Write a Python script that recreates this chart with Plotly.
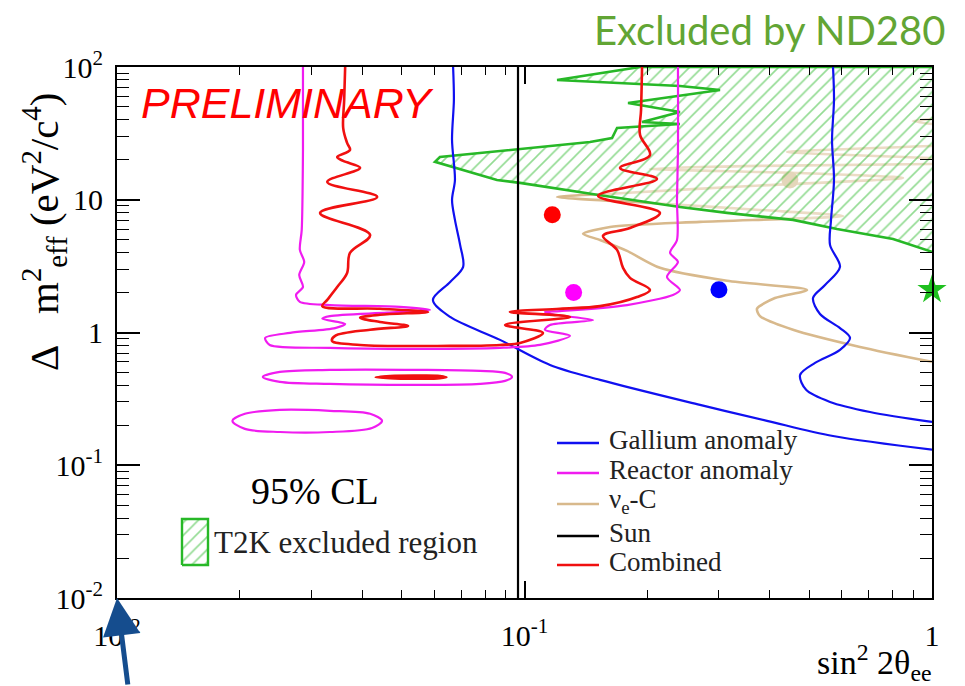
import numpy as np
import plotly.graph_objects as go

# ---------------------------------------------------------------
# 95% CL contours in the (sin^2 2theta_ee, Delta m^2_eff) plane
# x values: sin^2 2theta_ee, y values: Delta m^2_eff in eV^2/c^4
# ---------------------------------------------------------------

# Gallium anomaly (two branches)
gallium_a_s2t = [0.0668, 0.0671, 0.0664, 0.0675, 0.0664, 0.0675, 0.0695, 0.0707, 0.0657,
                 0.0596, 0.0657, 0.0871, 0.1155, 0.1532, 0.2696, 0.3937, 0.5716, 1.0]
gallium_a_dm2 = [100, 56.4, 28.2, 14.1, 9.97, 7.05, 4.57, 3.12, 2.40,
                 1.76, 1.31, 0.880, 0.570, 0.440, 0.285, 0.216, 0.166, 0.131]

gallium_b_s2t = [0.5716, 0.5748, 0.5684, 0.5748, 0.5652, 0.562, 0.5946, 0.5464, 0.5105, 0.531,
                 0.5946, 0.6293, 0.5946, 0.5164, 0.4745, 0.491, 0.562, 0.7045, 1.0]
gallium_b_dm2 = [100, 56.4, 28.2, 14.1, 7.05, 4.57, 3.12, 2.28, 1.82, 1.38,
                 1.08, 0.911, 0.740, 0.590, 0.479, 0.370, 0.300, 0.252, 0.212]

# Reactor anomaly: main contour and two islands
reactor_s2t = [0.0286, 0.0286, 0.0284, 0.0281, 0.0288, 0.0280, 0.0286, 0.0275, 0.0281, 0.0333,
               0.0495, 0.0586, 0.0460, 0.0333, 0.0319, 0.0363, 0.0343, 0.0266, 0.0231, 0.0237,
               0.0333, 0.0554, 0.0871, 0.1091, 0.1293, 0.1122, 0.1155, 0.1473, 0.1188, 0.1122,
               0.1222, 0.1785, 0.2314, 0.2407, 0.2237, 0.238, 0.2276, 0.2367, 0.2367, 0.238, 0.238]
reactor_dm2 = [100, 23.7, 5.93, 4.19, 3.40, 2.71, 2.20, 1.92, 1.70, 1.61,
               1.56, 1.48, 1.41, 1.33, 1.27, 1.16, 1.08, 0.993, 0.911, 0.806,
               0.766, 0.753, 0.766, 0.806, 0.943, 1.05, 1.14, 1.24, 1.36, 1.43,
               1.45, 1.61, 1.92, 2.09, 2.62, 3.40, 3.98, 4.98, 9.97, 23.7, 100]

reactor_isl1_s2t = [0.0228, 0.0251, 0.0333, 0.0554, 0.0778, 0.0896, 0.0932, 0.0896, 0.0778,
                    0.0554, 0.0333, 0.0251, 0.0228]
reactor_isl1_dm2 = [0.463, 0.505, 0.523, 0.523, 0.514, 0.496, 0.463, 0.432, 0.410,
                    0.403, 0.410, 0.425, 0.463]

reactor_isl2_s2t = [0.0192, 0.0206, 0.0251, 0.0333, 0.0418, 0.0447, 0.04225, 0.0333, 0.0251,
                    0.0206, 0.0192]
reactor_isl2_dm2 = [0.216, 0.244, 0.261, 0.257, 0.244, 0.216, 0.191, 0.178, 0.178,
                    0.188, 0.216]

# Combined fit: main contour and small island
combined_s2t = [0.0363, 0.0361, 0.0359, 0.0367, 0.0373, 0.0347, 0.0359, 0.0395, 0.0328, 0.0435,
                0.0315, 0.0418, 0.0373, 0.0367, 0.0347, 0.0328, 0.0319, 0.0442, 0.0580, 0.0442,
                0.0395, 0.0442, 0.0518, 0.0418, 0.0343, 0.0337, 0.0395, 0.0657, 0.0871, 0.0975,
                0.111, 0.0896, 0.1293, 0.0921, 0.1222, 0.1532, 0.1888, 0.2032, 0.1815, 0.1745,
                0.1687, 0.1558, 0.1815, 0.215, 0.1515, 0.2114, 0.1716, 0.2032, 0.1921, 0.1932, 0.1943]
combined_dm2 = [100, 56.4, 34.7, 26.8, 23.7, 21.0, 19.6, 17.4, 13.6, 10.5,
                7.96, 5.43, 3.98, 2.81, 2.20, 1.76, 1.58, 1.51, 1.43, 1.36,
                1.29, 1.20, 1.12, 1.05, 0.943, 0.865, 0.806, 0.793, 0.806, 0.835,
                0.993, 1.14, 1.31, 1.43, 1.51, 1.58, 1.85, 2.09, 2.58, 3.07,
                4.19, 5.34, 6.13, 7.96, 10.7, 14.35, 17.4, 21.7, 30.8, 47.5, 100]

combined_isl_s2t = [0.0430, 0.0468, 0.0554, 0.0620, 0.0645, 0.0620, 0.0554, 0.0468, 0.0430]
combined_isl_dm2 = [0.460, 0.474, 0.478, 0.474, 0.460, 0.448, 0.444, 0.448, 0.460]

# nu_e-C contour (three pieces)
nuc_s2t = [1.0, 0.6658, 0.456, 0.3784, 0.372, 0.4118, 0.4936, 0.314, 0.215, 0.1785,
           0.1532, 0.1392, 0.1621, 0.2696, 0.6048, 0.3784, 0.2032, 0.1202, 0.1716, 0.3576,
           0.8491, 0.4745, 0.2032, 0.3784, 1.0]
nuc_dm2 = [0.601, 0.779, 1.05, 1.33, 1.51, 1.82, 2.09, 2.45, 3.07, 4.12,
           4.98, 5.53, 6.24, 6.81, 7.55, 8.38, 9.46, 10.5, 11.2, 12.7,
           14.6, 15.9, 17.1, 18.0, 18.6]
nuc_tip1_s2t = [1.0, 0.4409, 1.0]
nuc_tip1_dm2 = [20.6, 22.9, 25.4]
nuc_tip2_s2t = [1.0, 0.898, 1.0]
nuc_tip2_dm2 = [40.6, 39.2, 37.2]

# Sun constraint
sun_s2t = 0.0964

# T2K (ND280) excluded region boundary
t2k_s2t = [1.0, 0.1921, 0.1202, 0.2407, 0.3019, 0.1795, 0.2407, 0.1943, 0.2407, 0.1687,
           0.164, 0.1448, 0.0620, 0.0603, 0.0856, 0.0975, 0.1507, 0.2407, 0.314, 0.456,
           0.5846, 0.8025, 1.0]
t2k_dm2 = [100, 100, 79.8, 71.9, 67.1, 53.6, 45.8, 38.5, 37.2, 34.7,
           29.2, 27.2, 21.0, 19.3, 14.1, 13.4, 10.9, 8.83, 7.96, 7.05,
           6.03, 5.07, 4.05]

# Best-fit points
best_labels = ["Combined", "Reactor anomaly", "Gallium anomaly"]
best_s2t = [0.117, 0.132, 0.30]
best_dm2 = [7.7, 2.0, 2.1]
nuc_best = (0.448, 14.1)
t2k_best = (1.0, 2.1)

# Axis ticks
x_major = [0.01, 0.1, 1]
x_major_text = ["10<sup>-2</sup>", "10<sup>-1</sup>", "1"]
y_major = [0.01, 0.1, 1, 10, 100]
y_major_text = ["10<sup>-2</sup>", "10<sup>-1</sup>", "1", "10", "10<sup>2</sup>"]

# ---------------------------------------------------------------
BLUE = "#1010f0"
MAGENTA = "#f01cf0"
RED = "#f01010"
TAN = "#d8b98c"
GREEN = "#27b827"
SERIF = "Liberation Serif, Times New Roman, serif"

# layout helpers: figure pixel position -> paper fraction of the plot area
L, R, T, B = 117, 932, 67, 598
def px(xp):
    return (xp - L) / (R - L)
def py(yp):
    return (B - yp) / (B - T)

fig = go.Figure()

def curve(x, y, color, width=2.2, shape="spline", smoothing=0.6, **kw):
    fig.add_trace(go.Scatter(x=x, y=y, mode="lines",
                             line=dict(color=color, width=width, shape=shape, smoothing=smoothing),
                             showlegend=False, hoverinfo="skip", **kw))

# nu_e-C sits underneath the hatched area
curve(nuc_s2t, nuc_dm2, TAN, width=2.6, smoothing=0.7)
curve(nuc_tip1_s2t, nuc_tip1_dm2, TAN, width=2.6, smoothing=0.5)
curve(nuc_tip2_s2t, nuc_tip2_dm2, TAN, width=2.6, smoothing=0.5)
fig.add_trace(go.Scatter(x=[nuc_best[0]], y=[nuc_best[1]], mode="markers",
                         marker=dict(size=17, color="#c9ad74", line=dict(width=0)),
                         showlegend=False, hoverinfo="skip"))

# T2K excluded region (hatched)
fig.add_trace(go.Scatter(x=t2k_s2t, y=t2k_dm2, mode="lines", fill="toself",
                         fillpattern=dict(shape="/", fgcolor=GREEN, bgcolor="rgba(255,255,255,0.5)",
                                          size=9, solidity=0.18),
                         line=dict(color=GREEN, width=2.6),
                         showlegend=False, hoverinfo="skip"))

# Sun
fig.add_trace(go.Scatter(x=[sun_s2t, sun_s2t], y=[0.01, 100], mode="lines",
                         line=dict(color="black", width=2.2), showlegend=False, hoverinfo="skip"))

# Gallium
curve(gallium_a_s2t, gallium_a_dm2, BLUE, smoothing=0.9)
curve(gallium_b_s2t, gallium_b_dm2, BLUE, smoothing=0.9)

# Reactor
curve(reactor_s2t, reactor_dm2, MAGENTA, smoothing=0.8)
curve(reactor_isl1_s2t, reactor_isl1_dm2, MAGENTA, smoothing=0.9)
curve(reactor_isl2_s2t, reactor_isl2_dm2, MAGENTA, smoothing=0.9)

# Combined
curve(combined_s2t, combined_dm2, RED, width=2.6, smoothing=1.0)
fig.add_trace(go.Scatter(x=combined_isl_s2t, y=combined_isl_dm2, mode="lines", fill="toself",
                         fillcolor=RED, line=dict(color=RED, width=1.6, shape="spline"),
                         showlegend=False, hoverinfo="skip"))

# Best-fit points
fig.add_trace(go.Scatter(x=best_s2t, y=best_dm2, mode="markers", text=best_labels,
                         marker=dict(size=17, color=["#ff0000", "#ff00ff", "#0000ff"], line=dict(width=0)),
                         showlegend=False, hoverinfo="skip"))
fig.add_trace(go.Scatter(x=[t2k_best[0]], y=[t2k_best[1]], mode="markers", cliponaxis=False,
                         marker=dict(size=22, symbol="star", color="#1fc01f", line=dict(width=0)),
                         showlegend=False, hoverinfo="skip"))

# Legend key for the hatched region (drawn on a plain 0..1 overlay axis)
box_x = [px(182), px(208), px(208), px(182), px(182)]
box_y = [py(565), py(565), py(519), py(519), py(565)]
fig.add_trace(go.Scatter(x=box_x, y=box_y, xaxis="x2", yaxis="y2", mode="lines", fill="toself",
                         fillpattern=dict(shape="/", fgcolor=GREEN, bgcolor="white", size=9, solidity=0.18),
                         line=dict(color=GREEN, width=2.4), showlegend=False, hoverinfo="skip"))

# ---------------------------------------------------------------
x_minor = [v * 10.0 ** e for e in (-2, -1) for v in range(2, 10)]
y_minor = [v * 10.0 ** e for e in (-2, -1, 0, 1) for v in range(2, 10)]

tickfont = dict(family=SERIF, size=30, color="black")
fig.update_xaxes(type="log", range=[-2, 0], tickvals=x_major, ticktext=x_major_text,
                 showline=True, linecolor="black", linewidth=2, mirror="allticks",
                 ticks="inside", ticklen=17, tickwidth=1.6, tickcolor="black",
                 minor=dict(tickvals=x_minor, ticks="inside", ticklen=8, tickwidth=1.4, tickcolor="black"),
                 showgrid=False, zeroline=False, tickfont=tickfont, ticklabelstandoff=10)
fig.update_yaxes(type="log", range=[-2, 2], tickvals=y_major, ticktext=y_major_text,
                 showline=True, linecolor="black", linewidth=2, mirror="allticks",
                 ticks="inside", ticklen=23, tickwidth=1.6, tickcolor="black",
                 minor=dict(tickvals=y_minor, ticks="inside", ticklen=12, tickwidth=1.4, tickcolor="black"),
                 showgrid=False, zeroline=False, tickfont=tickfont, ticklabelstandoff=6)

fig.update_layout(
    width=965, height=686,
    margin=dict(l=L, r=965 - R, t=T, b=686 - B),
    paper_bgcolor="white", plot_bgcolor="white",
    xaxis2=dict(overlaying="x", range=[0, 1], visible=False),
    yaxis2=dict(overlaying="y", range=[0, 1], visible=False),
    showlegend=False,
)

# Line legend
legend_rows = [("Gallium anomaly", BLUE, 440), ("Reactor anomaly", MAGENTA, 470),
               ("ν<sub>e</sub>-C", TAN, 501), ("Sun", "black", 533), ("Combined", RED, 562)]
for label, color, yp in legend_rows:
    fig.add_shape(type="line", xref="paper", yref="paper", x0=px(557), x1=px(599),
                  y0=py(yp + 3), y1=py(yp + 3), line=dict(color=color, width=2.4))
    fig.add_annotation(xref="paper", yref="paper", x=px(607), y=py(yp), text=label,
                       xanchor="left", yanchor="middle", showarrow=False,
                       font=dict(family=SERIF, size=27, color="#222222"))

# Texts
fig.add_annotation(xref="paper", yref="paper", x=px(287), y=py(103), text="<i>PRELIMINARY</i>",
                   showarrow=False, xanchor="center", yanchor="middle",
                   font=dict(family="Liberation Sans", size=43, color="#ff0000"))
fig.add_annotation(xref="paper", yref="paper", x=px(947), y=py(30), text="Excluded by ND280",
                   showarrow=False, xanchor="right", yanchor="middle",
                   font=dict(family="Lato", size=40, color="#62a534"))
fig.add_annotation(xref="paper", yref="paper", x=px(315), y=py(491), text="95% CL",
                   showarrow=False, xanchor="center", yanchor="middle",
                   font=dict(family=SERIF, size=38, color="black"))
fig.add_annotation(xref="paper", yref="paper", x=px(212), y=py(542), text="T2K excluded region",
                   showarrow=False, xanchor="left", yanchor="middle",
                   font=dict(family=SERIF, size=31, color="#222222"))

# Axis titles
fig.add_annotation(xref="paper", yref="paper", x=px(44), y=py(232), textangle=-90,
                   text="Δ&nbsp;&nbsp;&nbsp;m<sup>2</sup><sub>eff</sub> (eV<sup>2</sup>/c<sup>4</sup>)",
                   showarrow=False, xanchor="center", yanchor="middle",
                   font=dict(family=SERIF, size=41, color="black"))
fig.add_annotation(xref="paper", yref="paper", x=px(934), y=py(662),
                   text="sin<sup>2</sup> 2θ<sub>ee</sub>",
                   showarrow=False, xanchor="right", yanchor="middle",
                   font=dict(family=SERIF, size=34, color="black"))

# Arrow pointing at the plot origin
fig.add_annotation(x=np.log10(x_major[0]), y=np.log10(y_major[0]), xref="x", yref="y",
                   ax=11, ay=95, text="", showarrow=True, arrowhead=2, arrowsize=1.5,
                   arrowwidth=5, arrowcolor="#154d8e", standoff=0)

fig.write_html("out.html")
